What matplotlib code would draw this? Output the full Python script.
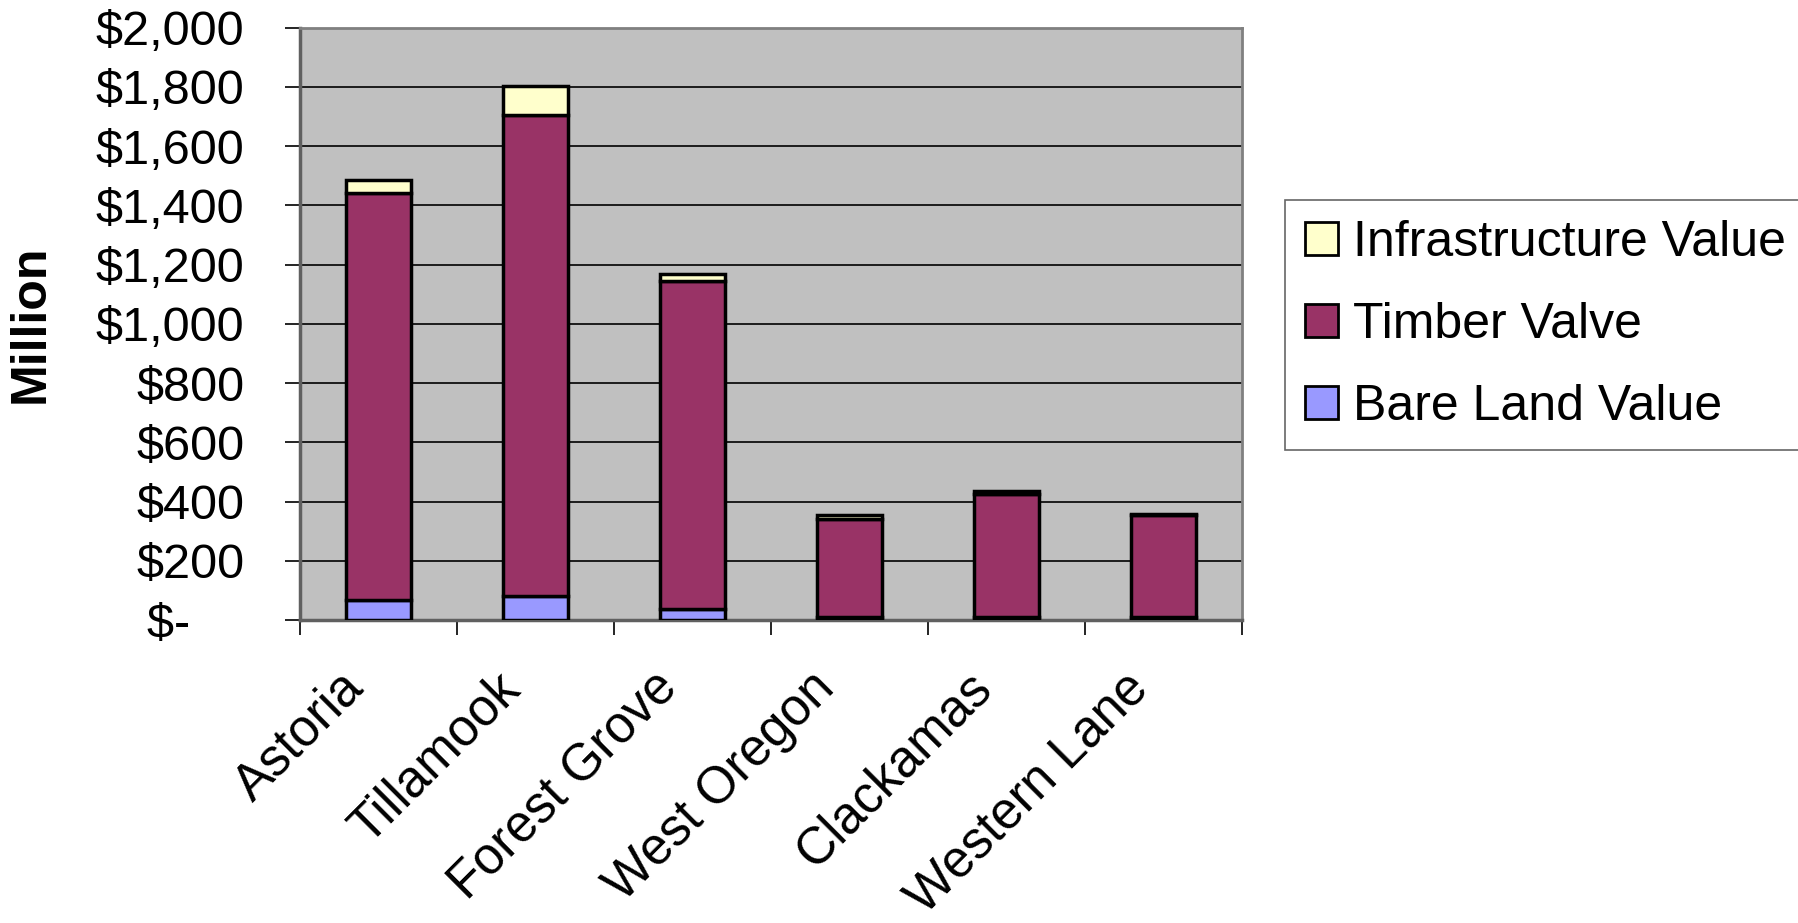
import numpy as np
import matplotlib
matplotlib.use("Agg")
import matplotlib.pyplot as plt
import matplotlib.transforms as mtransforms
from matplotlib.ticker import FuncFormatter, FixedLocator

plt.rcParams["font.family"] = ["Liberation Sans", "DejaVu Sans"]

# Values in $ million
districts      = ["Astoria", "Tillamook", "Forest Grove", "West Oregon", "Clackamas", "Western Lane"]
bareLand       = [70, 81, 39, 12, 10, 10]
timber         = [1373, 1625, 1106, 330, 417, 345]
infrastructure = [42, 97, 23, 14, 8, 2]

bareColor   = "#9999FF"
timberColor = "#993366"
infraColor  = "#FFFFCC"

figure = plt.figure(figsize=(17.98, 9.23), dpi=100)
axes   = figure.add_axes([0.1669, 0.328, 0.5239, 0.642])
axes.set_facecolor("#C0C0C0")

x        = np.arange(len(districts))
width    = 0.41
barStyle = dict(width=width, edgecolor="black", linewidth=2.5, zorder=3)

bare = np.array(bareLand)
timb = np.array(timber)
axes.bar(x, bare, color=bareColor, label="Bare Land Value", **barStyle)
axes.bar(x, timb, bottom=bare, color=timberColor, label="Timber Valve", **barStyle)
axes.bar(x, infrastructure, bottom=bare + timb, color=infraColor, label="Infrastructure Value", **barStyle)

axes.set_xlim(-0.5, len(districts) - 0.5)
axes.set_ylim(0, 2000)

# y axis: accounting style dollar labels
axes.yaxis.set_major_locator(FixedLocator(np.arange(0, 2001, 200)))
def DollarFormat(value, position):
    if value == 0:
        return "$-    "
    return "${:,.0f}".format(value)
axes.yaxis.set_major_formatter(FuncFormatter(DollarFormat))
axes.grid(axis="y", color="black", linewidth=1.2, zorder=1)

# x ticks sit between categories, labels at the centers
axes.set_xticks(np.arange(-0.5, len(districts), 1.0))
axes.set_xticklabels([])
axes.set_xticks(x, minor=True)
axes.set_xticklabels(districts, minor=True, rotation=45, ha="right", rotation_mode="anchor", fontsize=37)
axes.tick_params(axis="x", which="minor", length=0, pad=22)
axes.tick_params(axis="x", which="major", length=11, width=1.2, direction="out")
axes.tick_params(axis="y", length=11, width=1.2, direction="out", labelsize=35, pad=29)

offset = mtransforms.ScaledTranslation(-29/72, -9/72, figure.dpi_scale_trans)
for label in axes.get_xticklabels(minor=True):
    label.set_transform(label.get_transform() + offset)

for side in ["top", "right"]:
    axes.spines[side].set_color("#808080")
    axes.spines[side].set_linewidth(2)
for side in ["left", "bottom"]:
    axes.spines[side].set_color("#606060")
    axes.spines[side].set_linewidth(2.5)

axes.set_ylabel("Million", fontsize=36, fontweight="bold")
axes.yaxis.set_label_coords(-0.262, 0.5)

handles, labels = axes.get_legend_handles_labels()
legend = figure.legend(handles[::-1], labels[::-1], loc="upper left",
                       bbox_to_anchor=(0.7147, 0.2, 0.29, 0.5833), mode="expand",
                       fontsize=36, frameon=True, fancybox=False, edgecolor="#404040",
                       handlelength=0.65, handleheight=0.65, handletextpad=0.3,
                       labelspacing=0.72, borderpad=0.4, borderaxespad=0)
legend.get_frame().set_linewidth(1.2)
for patch in legend.get_patches():
    patch.set_linewidth(2)

figure.savefig("out.png", dpi=100)
